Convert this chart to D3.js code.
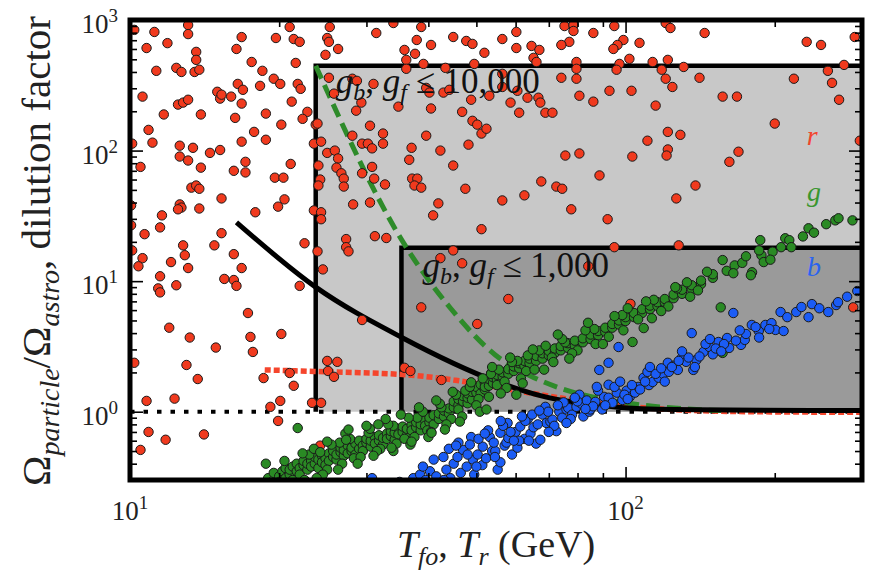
<!DOCTYPE html>
<html><head><meta charset="utf-8">
<script src="https://cdnjs.cloudflare.com/ajax/libs/d3/7.8.5/d3.min.js"></script>
<style>body{margin:0;background:#fff}svg{display:block}</style>
</head><body><svg id="c" width="870" height="575"></svg>
<script>
// ---------------- data ----------------
const xMajorTicks=[10,100];
const xMinorTicks=[20,30,40,50,60,70,80,90,200,300];
const yMajorTicks=[1,10,100,1000];
const yMinorTicks=[0.3,0.4,0.5,0.6,0.7,0.8,0.9,2,3,4,5,6,7,8,9,20,30,40,50,60,70,80,90,200,300,400,500,600,700,800,900];
const xTickLabels=["1","2"];
const yTickLabels=["0","1","2","3"];

// shaded regions [Tmin, Tmax, Omin, Omax]
const box10000=[23.7,300,1,446];
const box1000=[35.3,300,1,18.0];

// curves [T, Omega]
const blackCurve=[[16.4,28.2],[23.7,9.0],[35.2,3.74],[54.6,1.72],[68.9,1.30],[86.9,1.13],[101,1.07],[138,1.035],[300,1.02]];
const greenCurve=[[23.7,446],[35.9,18.8],[44.3,6.23],[54.6,2.72],[64.3,1.88],[75.6,1.47],[89.0,1.26],[107.2,1.13],[141.7,1.035],[156,1.02]];
const redCurve=[[18.7,2.09],[25.1,2.02],[35.9,1.92],[45,1.75],[54.6,1.55],[65,1.38],[80,1.22],[100,1.1],[130,1.03],[180,1.0],[300,0.99]];
const unityLine=[[10,1],[300,1]];

const redPoints=[
[10.2,840],[11.2,810],[13.1,915],[13.1,780],[10.8,610],[11.9,665],[13.6,570],[13.6,495],[11.3,408],[12.4,430],[12.7,400],[13.5,400],[13.8,416],
[16.8,740],[16.4,600],[17.6,477],[18.5,408],[19.5,355],[16.5,324],[16.9,292],[18.3,313],[20.1,324],[19.7,728],[21.0,884],[21.4,715],[22.0,680],[21.6,469],[21.8,324],[22.1,297],[21.2,237],[22.8,198],[22.3,175],[23.7,158],
[25.0,728],[25.2,680],[25.3,884],[26.3,600],[24.8,541],[25.2,361],[28.1,355],[28.7,342],[31.0,324],[25.8,273],[29.3,233],[28.6,202],
[31.4,795],[34.0,948],[38.7,884],[37.9,703],[40.5,644],[35.8,590],[36.1,495],[36.1,423],[37.6,551],[39.1,461],[43.3,430],[44.9,741],[47.7,691],[49.1,656],[51.9,561],[49.5,461],
[39.6,302],[40.2,278],[42.9,278],[44.1,292],[48.8,245],[53.1,263],[34.8,217],[40.5,210],[46.8,198],[49.1,169],[50.2,158],[51.2,135],[52.4,147],
[10.6,259],[11.7,189],[12.5,225],[12.8,233],[13.1,245],[13.9,189],[15.0,282],[15.2,250],[15.3,268],[16.0,259],[16.8,229],[16.3,178],[18.8,192],[20.2,158],[17.8,139],[18.8,121],[16.8,117],
[10.9,144],[11.1,115],[10.1,113],[12.6,109],[13.4,105],[12.6,90],[13.1,83.9],[14.5,96],[15.2,101],[10.5,75],[13.9,74],[17.1,82],[16.2,70],[17.1,68],[21.1,79],[19.6,62],[20.4,62],
[13.3,52],[13.6,54],[13.8,51],[12.6,38.7],[12.7,36.6],[12.5,35.5],[13.8,36],[15.3,43],[20.5,42.3],[19.9,37.2],[17.9,33.7],[11.6,31.9],[11.5,25.8],[10.7,22.9],[10.05,38],[10.05,26.8],[12.8,18.8],[14.8,18.8],[15.3,23.3],[22.5,19.5],[23.5,34.8],[24.3,33.7],[24.3,29.8],
[23.9,161],[23.5,113],[24.3,117],[24.0,76.8],[24.2,60],[24.0,54],[25.0,96],[25.9,100],[26.3,87],[26.1,74],[26.7,67],[27.0,61],[27.0,53],[28.2,38.7],[27.3,21],[27.3,18.2],[31.2,22.1],[32.9,21.4],
[30.8,75],[31.1,61],[32.7,55],[29.4,67],[30.5,40],[28.1,130],[29.4,113],[30.2,113],[30.8,104],[32.4,113],[32.4,135],[30.5,155],
[37.0,105],[36.6,85],[37.1,61],[38.0,61],[37.5,54],[38.7,52],[39.6,130],[41.9,39.4],[40.9,31.9],[42.3,100],[44.9,76.8],[48.2,111],[47.5,51],[51.2,25],
[56.4,715],[60.2,810],[60.2,610],[64.6,633],[67.0,590],[65.2,513],[66.1,477],[75.3,899],[78.5,915],[78.5,824],[77.0,680],[74.2,644],[86.1,795],[94.9,899],[99.0,703],[96.3,644],[94.5,600],[106.7,668],[101.8,504],[97.2,461],[95.9,416],[79.6,477],[79.6,423],[79.6,355],[74.2,361],
[113.4,477],[121.7,495],[118.3,416],[120.5,355],[124.3,307],[131,437],[120.5,948],[123.2,868],[144.4,795],[141,361],[232,680],[248,644],[290,741],[256,408],[261,330],[276,453],[218.6,355],[269.7,245],
[56.4,387],[56.4,307],[60.5,287],[58.6,233],[61.0,195],[63.4,254],[66.7,254],[67.3,233],[68.9,195],[71.2,195],[80.7,263],[86.1,237],[92.8,287],[102.8,287],[115,221],[157,259],[167.8,259],[200,161],
[121.7,139],[129,132],[110.7,119],[121.7,102],[121,91.6],[103.2,90],[80.7,95],[75.6,91.6],[169,98],[162,82],[297,119],
[67.6,58],[72.5,53],[74.5,51],[62.5,45.4],[56.4,41.5],[88.6,64.5],[77.7,35.5],[92.0,29.8],[138.4,54],[126.6,43],[94.9,18.2],[128,18.8],
[10.1,17.2],[10.6,15.0],[10.4,13.0],[12.1,14.0],[12.9,15.8],[13.1,12.6],[16.2,16.1],[16.8,12.6],[15.5,10.4],[16.2,10.2],[16.4,9.2],[11.5,10.9],[11.4,8.8],[11.5,8.2],[12.4,9.3],[17.3,5.7],[12.0,4.4],[13.2,3.7],[14.9,3.1],[17.5,3.74],[17.7,2.87],[20.2,3.94],[10.2,2.37],[13.0,2.28],[13.7,1.78],[18.6,1.81],[21.0,1.98],[21.4,1.58],[10.8,1.21],[12.3,1.26],[20.1,1.21],[19.2,1.09],[19.9,0.85],[23.3,1.17],[24.3,1.17],[10.9,0.70],[11.8,0.61],[14.1,0.67],[10.5,0.51],
[22.0,9.2],[23.9,16.9],[24.5,12.3],[27.6,16.9],[25.0,2.45],[26.2,2.41],[25.1,2.05],[25.8,1.85],[29.4,5.04],[38.7,6.3],[42.3,15.0],[44.9,17.2],[46.8,13.7],[50.2,4.7],[35.8,2.17],[36.8,2.05],[42.5,1.75],[53.6,1.98],[24.2,0.55],
[84.1,13.0],[58.0,7.3],[102.3,6.7],[288,6.3]
];

const greenPoints=[
[19.0,0.29],[19.0,0.31],[19.5,0.30],[19.5,0.34],[20.0,0.32],[20.0,0.29],[20.3,0.35],[20.6,0.31],[20.6,0.37],[21.0,0.33],[21.0,0.36],[21.3,0.30],[21.3,0.38],[21.7,0.35],[21.7,0.40],[22.0,0.37],[22.0,0.33],[22.4,0.39],[22.4,0.42],[22.8,0.36],[22.8,0.40],[23.2,0.42],[23.2,0.38],[23.6,0.40],[23.6,0.45],[24.0,0.37],[24.0,0.43],[24.4,0.46],[24.4,0.41],[24.8,0.44],[24.8,0.39],[25.2,0.48],[25.2,0.42],[25.7,0.45],[25.7,0.50],[26.1,0.43],[26.1,0.47],[26.6,0.49],[26.6,0.53],[27.0,0.46],[27.0,0.51],[27.5,0.55],[27.5,0.48],[28.0,0.50],[28.0,0.53],[28.5,0.57],[28.5,0.47],[29.0,0.52],[29.0,0.60],[29.5,0.55],[29.5,0.50],[30.0,0.58],[30.0,0.62],[30.6,0.54],[30.6,0.60],[31.2,0.64],[31.2,0.57],[31.8,0.60],[31.8,0.66],[32.4,0.56],[32.4,0.63],[33.0,0.68],[33.0,0.62],[33.6,0.65],[33.6,0.71],[34.2,0.61],[34.2,0.69],[34.8,0.74],[34.8,0.67],[35.5,0.70],[35.5,0.77],[36.2,0.66],[36.2,0.74],[37.0,0.79],[37.0,0.72],[37.8,0.76],[37.8,0.83],[38.6,0.72],[38.6,0.80],[39.4,0.86],[39.4,0.78],[40.2,0.83],[40.2,0.90],[41.0,0.80],[41.0,0.94],[42.0,0.88],[42.0,0.97],[43.0,0.92],[43.0,1.02],[44.0,0.97],[44.0,1.06],
[45.0,1.08],[45.0,1.20],[46.0,1.12],[46.0,1.04],[46.0,1.25],[47.0,1.20],[47.0,1.32],[48.0,1.16],[48.0,1.28],[48.0,1.38],[49.0,1.24],[49.0,1.42],[50.0,1.40],[50.0,1.55],[51.0,1.38],[51.0,1.62],[52.0,1.48],[52.0,1.66],[52.0,1.55],[53.0,1.58],[53.0,1.78],[54.0,1.66],[54.0,1.84],[55.0,1.75],[55.0,1.92],[55.0,1.60],[56.5,1.86],[56.5,2.00],[58.0,1.95],[58.0,2.12],[59.5,2.05],[59.5,2.22],[61.0,2.15],[61.0,2.35],[62.5,2.25],[62.5,2.45],[64.0,2.35],[64.0,2.55],[66.0,2.45],[66.0,2.68],[68.0,2.55],[68.0,2.80],[70.0,2.70],[70.0,2.92],[72.0,2.82],[72.0,3.05],[74.0,2.95],[74.0,3.18],[76.5,3.08],[76.5,3.35],[79.0,3.20],[79.0,3.50],
[82.0,3.40],[82.0,3.65],[85.0,3.60],[85.0,3.90],[88.0,3.85],[88.0,4.15],[91.0,4.10],[91.0,4.40],[94.0,4.40],[94.0,4.70],[97.0,4.65],[97.0,5.00],[100,4.95],[100,5.30],[104,5.30],[104,5.70],[108,5.70],[108,6.10],[112,6.10],[112,6.50],[116,6.45],[116,6.90],[120,6.90],[120,7.30],[125,7.40],[125,7.90],[130,8.0],[130,8.6],[136,8.7],[136,9.3],[142,9.5],[142,10.1],[150,10.6],[150,11.3],
[157,14.5],[166,13.2],[180,11.7],[188,15.8],[187,20.6],[186,17.2],[190,14.0],[179,11.1],[206,18.2],[210,21.3],[214,20.6],[216,18.2],[234,25.4],[254,27.3],[265,29.2],[269,30.3],[287,29.2],[172,13.8],[160,12.0],[198,16.8],[240,23.5],[228,22.0],
[23.0,0.47],[25.0,0.36],[26.5,0.58],[28.3,0.44],[30.3,0.69],[32.0,0.52],[34.0,0.78],[35.8,0.62],[38.0,0.90],[39.8,0.72],[42.5,1.08],[44.5,0.88],[47.5,1.45],[50.5,1.25],[53.5,1.95],[57.0,1.70],[60.5,2.45],[63.0,2.05],[67.0,2.95],[71.0,2.60],[75.5,3.40],[80.0,2.95],[86.5,4.30],[92.5,3.75],[98.5,5.50],[106,5.10],[114,7.20],[122,6.40],[133,9.8],[140,8.5],
[22.5,0.30],[23.5,0.52],[24.5,0.33],[25.5,0.56],[26.8,0.40],[27.8,0.62],[29.2,0.45],[30.5,0.74],[31.5,0.50],[33.2,0.80],[34.5,0.57],[36.5,0.90],[37.5,0.64],[39.0,1.00],[40.5,0.70],[42.2,1.15],[43.5,0.80],[45.5,1.35],[46.8,0.92],[48.5,1.55],[50.0,1.12],[51.5,1.80],[53.0,1.30],[55.5,2.10],[57.5,1.52],[59.0,2.40],[61.5,1.80],[63.5,2.70],[65.5,2.10],[69.0,3.20],[71.5,2.40],[74.5,3.60],[78.0,2.80],[83.0,4.20],[87.0,3.30],[95.0,5.40],[99.0,4.20],[110,7.0],[118,5.9],[127,8.8],
[20.5,0.42],[21.5,0.27],[22.3,0.48],[23.8,0.31],[25.0,0.59],[26.3,0.36],[27.2,0.68],[28.8,0.40],[30.0,0.78],[31.0,0.46],[32.8,0.88],[34.0,0.50],[35.2,0.95],[36.8,0.56],[38.3,1.08],[40.0,0.64],[41.5,1.22],[43.2,0.73],[44.8,1.42],[46.3,0.84],[48.8,1.68],[50.8,1.0],[53.8,2.2],[56.0,1.38],[58.5,2.6],[62.0,1.65],[65.0,3.0],[68.5,2.1],[73.0,3.9],[77.0,2.55],[84.0,4.8],[90.0,3.3],[101,6.2],[113,5.2],[126,9.0],[135,7.6],[146,11.8],[165,11.5],[175,15.5],[196,14.6],
[21.8,0.75],[18.8,0.40],[24.2,0.49],[27.6,0.73],[27.3,0.61],[31.7,0.80],[33.7,0.53],[37.0,0.59],[40.6,0.69],[52.4,1.04],[108.8,4.37],[103.3,3.42],[155.6,6.3],[157,2.82],[60.2,1.35]
];

const bluePoints=[
[30.8,0.31],[35.0,0.29],[37.3,0.31],[38.5,0.33],[39.5,0.30],[40.3,0.35],[41.5,0.32],[42.9,0.45],[43.5,0.36],[44.3,0.31],[45.0,0.40],[45.8,0.45],[46.5,0.34],[47.0,0.51],[47.8,0.38],[48.8,0.64],[49.2,0.43],[49.5,0.33],[50.3,0.47],[51.4,0.39],[51.5,0.54],[52.3,0.44],[53.2,0.64],[53.8,0.50],[54.6,0.50],[55.2,0.36],[55.9,0.69],[55.9,0.41],[57.0,0.55],[57.5,0.58],[57.8,0.82],[58.0,0.63],[59.0,0.47],[60.0,0.70],[60.5,0.53],[61.3,0.77],[62.5,0.62],[63.5,0.88],[64.3,0.68],[65.2,0.76],[66.0,0.57],[67.3,0.61],[68.0,0.95],[68.9,1.09],[69.2,0.82],[70.5,0.84],[71.2,0.87],[72.5,0.71],[73.5,1.0],[74.5,0.90],[76.0,1.04],[76.6,1.07],[78.0,0.95],[79.6,1.09],[80.7,1.35],[81.5,1.15],[82.2,0.92],[83.5,1.22],[84.5,1.0],[84.9,1.04],[86.9,1.19],[88.5,2.09],[89.7,1.04],[90.5,1.30],[92.4,1.28],[92.4,2.37],[92.4,1.61],[94.1,1.17],[96.8,3.13],[96.0,1.40],[98.5,1.23],[100.5,1.45],[102,1.30],[104.5,1.40],[106,1.55],[108.7,1.82],[110.7,2.02],[111.5,1.60],[113.4,1.69],[116.6,1.82],[119,1.95],[121.7,2.37],[122.3,2.02],[125,2.25],[127.5,2.09],[130,2.6],[132.5,2.41],[136,4.0],[137,2.09],[139,2.49],[143.6,2.87],[147.7,3.13],[150,2.75],[154,3.42],[160.3,3.67],[161.8,3.08],[165,5.7],[171,3.25],[174,3.55],[175,3.94],[179.8,4.62],[185.7,4.15],[191.5,4.62],[197,4.77],[200.7,4.23],[205.5,5.8],[208.4,4.15],[221,5.8],[226.4,6.34],[234,5.3],[237.7,6.67],[256.5,5.8],[266,6.56],[268.4,6.9],[293.5,8.4],
[44.0,0.52],[46.0,0.58],[48.0,0.47],[50.5,0.62],[52.8,0.72],[54.2,0.58],[56.6,0.78],[58.6,0.70],[61.0,0.60],[62.8,0.85],[64.8,0.95],[66.5,0.80],[69.8,1.0],[71.8,0.78],[75.0,1.18],[77.5,0.88],[80.0,1.20],[86.0,1.10],[88.0,1.45],[95.0,1.55],[99.5,1.35],[103,1.60],[107,1.48],[109.5,1.70],[115,1.95],[118,2.15],[124,2.20],[128,2.45],[134,2.60],[141,2.65],[145,3.30],[152,3.05],[158,3.30],[167,3.50],[183,4.45],[195,4.30],
[39.0,0.38],[41.0,0.43],[43.0,0.30],[45.5,0.55],[48.5,0.56],[50.0,0.38],[52.0,0.68],[54.5,0.45],[56.0,0.85],[59.5,0.60],[61.8,0.92],[63.8,0.60],[67.0,1.02],[70.0,0.70],[73.0,1.12],[76.0,0.82],[79.0,1.28],[83.0,1.05],[87.5,1.55],[91.0,1.12],[97.5,1.70],[101,1.25],[112,2.2],[120,1.7],[130,2.9],[138,2.2],[148,3.6],[156,2.9],[170,4.2],[186,3.7],[212,5.3],[246,6.2],[280,7.6]
];

const seriesLabels=[{t:"r",T:238,O:110,c:"#f2452e"},{t:"g",T:240,O:41,c:"#3a962f"},{t:"b",T:240,O:11.0,c:"#2a63f0"}];

// ---------------- drawing ----------------
const svg=d3.select("#c");
const L=130,R=862,T0=20,B=480;
const x=d3.scaleLog().domain([10,300]).range([L,R]);
const y=d3.scaleLog().domain([0.3,1000]).range([B,T0]);
const serif="'Liberation Serif','Times New Roman',serif";

svg.append("defs").append("clipPath").attr("id","clip")
  .append("rect").attr("x",L).attr("y",T0).attr("width",R-L).attr("height",B-T0);
const plot=svg.append("g").attr("clip-path","url(#clip)");

function drawBox(b,fill){
  plot.append("rect").attr("x",x(b[0])).attr("y",y(b[3]))
    .attr("width",x(b[1])-x(b[0])).attr("height",y(b[2])-y(b[3])).attr("fill",fill);
}
drawBox(box10000,"#c8c8c8");
drawBox(box1000,"#9a9a9a");
function boxEdge(b){
  plot.append("path").attr("d",d3.line()([[x(b[0]),y(b[2])],[x(b[0]),y(b[3])],[x(b[1]),y(b[3])]]))
    .attr("fill","none").attr("stroke","#000").attr("stroke-width",4.5);
}
boxEdge(box10000); boxEdge(box1000);

const line=d3.line().x(d=>x(d[0])).y(d=>y(d[1])).curve(d3.curveMonotoneX);
plot.append("path").attr("d",d3.line().x(d=>x(d[0])).y(d=>y(d[1]))(unityLine))
  .attr("fill","none").attr("stroke","#000").attr("stroke-width",4).attr("stroke-dasharray","4.5 9");

function dots(data,fill){
  plot.append("g").selectAll("circle").data(data).join("circle")
    .attr("cx",d=>x(d[0])).attr("cy",d=>y(d[1])).attr("r",4.7)
    .attr("fill",fill).attr("stroke","#1a1a1a").attr("stroke-width",1);
}

plot.append("path").attr("d",line(redCurve)).attr("fill","none").attr("stroke","#f5452c")
  .attr("stroke-width",5.5).attr("stroke-dasharray","6 3");
plot.append("path").attr("d",line(greenCurve)).attr("fill","none").attr("stroke","#2e8b2a")
  .attr("stroke-width",5).attr("stroke-dasharray","14 7");
plot.append("path").attr("d",line(blackCurve)).attr("fill","none").attr("stroke","#000")
  .attr("stroke-width",5);

dots(redPoints,"#f03a1e");
dots(greenPoints,"#2a8a24");
dots(bluePoints,"#1b5cf5");

// labels in boxes
function gLabel(xp,yp,num){
  const t=svg.append("text").attr("x",xp).attr("y",yp).attr("font-family",serif).attr("font-size",35).attr("fill","#111");
  t.append("tspan").attr("font-style","italic").text("g");
  t.append("tspan").attr("font-style","italic").attr("font-size",24).attr("dy",7).text("b");
  t.append("tspan").attr("dy",-7).text(", ");
  t.append("tspan").attr("font-style","italic").text("g");
  t.append("tspan").attr("font-style","italic").attr("font-size",24).attr("dy",7).text("f");
  t.append("tspan").attr("dy",-7).text(" \u2264 "+num);
}
gLabel(x(box10000[0])+20,93,"10,000");
gLabel(x(box1000[0])+21,277,"1,000");

seriesLabels.forEach(s=>{
  svg.append("text").attr("x",x(s.T)).attr("y",y(s.O)).attr("font-family",serif)
    .attr("font-style","italic").attr("font-size",28).attr("fill",s.c).attr("text-anchor","middle").text(s.t);
});

// axes (ticks inward on all four sides)
function ticks(axisFn,scale,vals,size,tr){
  const g=svg.append("g").attr("transform",tr)
    .call(axisFn(scale).tickValues(vals).tickSize(size).tickFormat(""));
  g.select(".domain").remove();
  g.selectAll("line").attr("stroke","#000").attr("stroke-width",1.6);
}
ticks(d3.axisBottom,x,xMinorTicks,-7,`translate(0,${B})`);
ticks(d3.axisBottom,x,xMajorTicks,-13,`translate(0,${B})`);
ticks(d3.axisTop,x,xMinorTicks,-7,`translate(0,${T0})`);
ticks(d3.axisTop,x,xMajorTicks,-13,`translate(0,${T0})`);
ticks(d3.axisLeft,y,yMinorTicks,-7,`translate(${L},0)`);
ticks(d3.axisLeft,y,yMajorTicks,-13,`translate(${L},0)`);
ticks(d3.axisRight,y,yMinorTicks,-7,`translate(${R},0)`);
ticks(d3.axisRight,y,yMajorTicks,-13,`translate(${R},0)`);

// frame
svg.append("rect").attr("x",L).attr("y",T0).attr("width",R-L).attr("height",B-T0)
  .attr("fill","none").attr("stroke","#000").attr("stroke-width",5);

// tick labels
xMajorTicks.forEach((v,i)=>{
  const t=svg.append("text").attr("x",x(v)).attr("y",520).attr("text-anchor","middle")
    .attr("font-family",serif).attr("font-size",27).attr("fill","#222");
  t.append("tspan").text("10");
  t.append("tspan").attr("font-size",19).attr("dy",-11).text(xTickLabels[i]);
});
yMajorTicks.forEach((v,i)=>{
  const t=svg.append("text").attr("x",118).attr("y",y(v)+13).attr("text-anchor","end")
    .attr("font-family",serif).attr("font-size",27).attr("fill","#222");
  t.append("tspan").text("10");
  t.append("tspan").attr("font-size",19).attr("dy",-11).text(yTickLabels[i]);
});

// axis titles
const xt=svg.append("text").attr("x",(L+R)/2).attr("y",557).attr("text-anchor","middle")
  .attr("font-family",serif).attr("font-size",38).attr("fill","#222");
xt.append("tspan").attr("font-style","italic").text("T");
xt.append("tspan").attr("font-style","italic").attr("font-size",26).attr("dy",8).text("fo");
xt.append("tspan").attr("dy",-8).text(",  ");
xt.append("tspan").attr("font-style","italic").text("T");
xt.append("tspan").attr("font-style","italic").attr("font-size",26).attr("dy",8).text("r");
xt.append("tspan").attr("dy",-8).text(" (GeV)");

const yt=svg.append("text").attr("transform",`translate(50,251) rotate(-90)`).attr("text-anchor","middle")
  .attr("font-family",serif).attr("font-size",41).attr("fill","#222");
yt.append("tspan").text("\u03A9");
yt.append("tspan").attr("font-style","italic").attr("font-size",28).attr("dy",9).text("particle");
yt.append("tspan").attr("dy",-9).text("/\u03A9");
yt.append("tspan").attr("font-style","italic").attr("font-size",28).attr("dy",9).text("astro");
yt.append("tspan").attr("dy",-9).text(",  dilution factor");
</script></body></html>
